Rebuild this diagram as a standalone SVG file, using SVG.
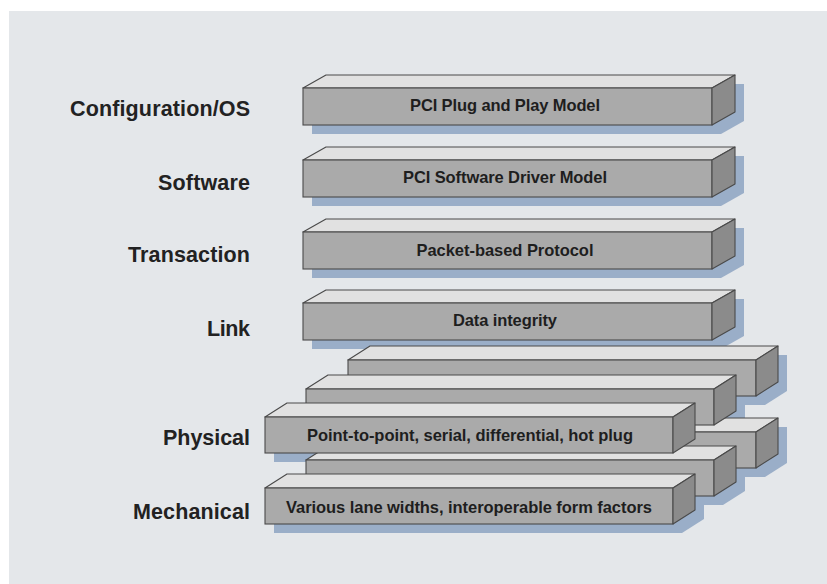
<svg xmlns="http://www.w3.org/2000/svg" xmlns:xlink="http://www.w3.org/1999/xlink" width="827" height="584" viewBox="0 0 827 584">
<style>
.top{fill:#e1e1e1;stroke:#4a4a4a;stroke-width:1.1;stroke-linejoin:round}
.front{fill:#aaaaaa;stroke:#4a4a4a;stroke-width:1.1}
.side{fill:#8b8b8b;stroke:#4a4a4a;stroke-width:1.1;stroke-linejoin:round}
.shadow{fill:#9aaec8}
.lbl{font-family:"Liberation Sans",Arial,sans-serif;font-weight:bold;font-size:21.5px;fill:#222;text-anchor:end}
.btxt{font-family:"Liberation Sans",Arial,sans-serif;font-weight:bold;font-size:16.5px;fill:#1e1e1e;text-anchor:middle}
</style>
<defs>
<g id="barA">
<polygon class="top" points="0,0 23,-13 432,-13 409,0"/>
<rect class="front" x="0" y="0" width="409" height="37"/>
<polygon class="side" points="409,0 432,-13 432,24 409,37"/>
</g>
<polygon id="shadowA" class="shadow" points="9,9 32,-4 441,-4 441,33 418,46 9,46"/>
<g id="barB">
<polygon class="top" points="0,0 22,-14 430,-14 408,0"/>
<rect class="front" x="0" y="0" width="408" height="36"/>
<polygon class="side" points="408,0 430,-14 430,22 408,36"/>
</g>
<polygon id="shadowB" class="shadow" points="9,9 31,-5 439,-5 439,31 417,45 9,45"/>
</defs>
<rect x="0" y="0" width="827" height="584" fill="#ffffff"/>
<rect x="9" y="11" width="818" height="573" fill="#e4e7ea"/>

<g id="labels">
<text class="lbl" x="250" y="116" textLength="180">Configuration/OS</text>
<text class="lbl" x="250" y="190" textLength="92">Software</text>
<text class="lbl" x="250" y="262" textLength="122">Transaction</text>
<text class="lbl" x="250" y="336" textLength="43">Link</text>
<text class="lbl" x="250" y="445" textLength="87">Physical</text>
<text class="lbl" x="250" y="519" textLength="117">Mechanical</text>
</g>

<g id="config-os">
<use xlink:href="#shadowA" transform="translate(303,88)"/>
<use xlink:href="#barA" transform="translate(303,88)"/>
<text class="btxt" x="505" y="111" textLength="190">PCI Plug and Play Model</text>
</g>
<g id="software">
<use xlink:href="#shadowA" transform="translate(303,160)"/>
<use xlink:href="#barA" transform="translate(303,160)"/>
<text class="btxt" x="505" y="183" textLength="204">PCI Software Driver Model</text>
</g>
<g id="transaction">
<use xlink:href="#shadowA" transform="translate(303,232)"/>
<use xlink:href="#barA" transform="translate(303,232)"/>
<text class="btxt" x="505" y="255.5" textLength="177">Packet-based Protocol</text>
</g>
<g id="link">
<use xlink:href="#shadowA" transform="translate(303,303)"/>
<use xlink:href="#barA" transform="translate(303,303)"/>
<text class="btxt" x="505" y="325.5" textLength="104">Data integrity</text>
</g>

<g id="lower-shadows">
<use xlink:href="#shadowB" transform="translate(348,360)"/>
<use xlink:href="#shadowB" transform="translate(348,432)"/>
<use xlink:href="#shadowB" transform="translate(306,389)"/>
<use xlink:href="#shadowB" transform="translate(306,460)"/>
<use xlink:href="#shadowB" transform="translate(265,417)"/>
<use xlink:href="#shadowB" transform="translate(265,488)"/>
</g>
<g id="physical-lane-3">
<use xlink:href="#barB" transform="translate(348,360)"/>
</g>
<g id="mechanical-lane-3">
<use xlink:href="#barB" transform="translate(348,432)"/>
</g>
<g id="physical-lane-2">
<use xlink:href="#barB" transform="translate(306,389)"/>
</g>
<g id="mechanical-lane-2">
<use xlink:href="#barB" transform="translate(306,460)"/>
</g>
<g id="physical">
<use xlink:href="#barB" transform="translate(265,417)"/>
<text class="btxt" x="470" y="441" textLength="326">Point-to-point, serial, differential, hot plug</text>
</g>
<g id="mechanical">
<use xlink:href="#barB" transform="translate(265,488)"/>
<text class="btxt" x="469" y="512.5" textLength="366">Various lane widths, interoperable form factors</text>
</g>
<g id="connectors"/>
</svg>
